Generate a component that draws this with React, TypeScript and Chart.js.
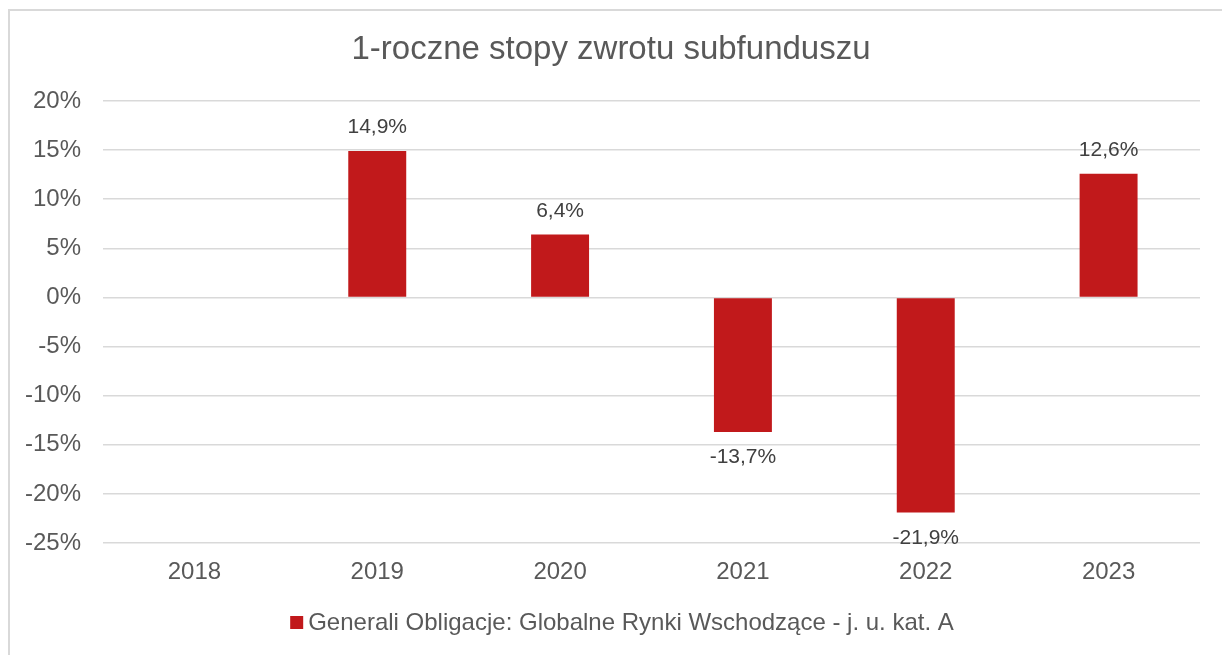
import React, { useEffect, useRef } from "react";
import { Chart, registerables } from "chart.js";

Chart.register(...registerables);

const TITLE = "1-roczne stopy zwrotu subfunduszu";
const SERIES_NAME = "Generali Obligacje: Globalne Rynki Wschodzące - j. u. kat. A";
const YEARS = ["2018", "2019", "2020", "2021", "2022", "2023"];
const RETURNS: (number | null)[] = [null, 14.9, 6.4, -13.7, -21.9, 12.6];
const Y_MIN = -25;
const Y_MAX = 20;
const Y_STEP = 5;

const BAR_COLOR = "#C1191B";
const FONT = "'Liberation Sans', Arial, sans-serif";

const fmt = (v: number) => v.toFixed(1).replace(".", ",") + "%";

const overlayPlugin = {
  id: "overlay",
  afterDraw(chart: any) {
    const ctx = chart.ctx as CanvasRenderingContext2D;
    const W = chart.width;
    ctx.save();
    // title
    ctx.fillStyle = "#595959";
    ctx.font = `33px ${FONT}`;
    ctx.textAlign = "center";
    ctx.textBaseline = "middle";
    ctx.fillText(TITLE, W / 2, 50);

    // data labels
    const meta = chart.getDatasetMeta(0);
    ctx.font = `21px ${FONT}`;
    ctx.fillStyle = "#404040";
    meta.data.forEach((el: any, i: number) => {
      const v = RETURNS[i];
      if (v === null || v === undefined) return;
      const y = v >= 0 ? el.y - 23.5 : el.y + 25.5;
      ctx.fillText(fmt(v), el.x, y);
    });

    // legend
    ctx.font = `24px ${FONT}`;
    const tw = ctx.measureText(SERIES_NAME).width;
    const box = 13;
    const gap = 5;
    const total = box + gap + tw;
    const x0 = 622 - total / 2;
    ctx.fillStyle = BAR_COLOR;
    ctx.fillRect(x0, 616, box, box);
    ctx.fillStyle = "#595959";
    ctx.textAlign = "left";
    ctx.fillText(SERIES_NAME, x0 + box + gap, 623);
    ctx.restore();
  },
};

export default function App() {
  const ref = useRef<HTMLCanvasElement | null>(null);
  useEffect(() => {
    if (!ref.current) return;
    const chart = new Chart(ref.current, {
      type: "bar",
      data: {
        labels: YEARS,
        datasets: [
          {
            label: SERIES_NAME,
            data: RETURNS,
            backgroundColor: BAR_COLOR,
            borderWidth: 0,
            barPercentage: 0.317,
            categoryPercentage: 1,
          },
        ],
      },
      options: {
        responsive: false,
        animation: false,
        layout: { padding: { top: 101, right: 22, bottom: 62, left: 0 } },
        plugins: {
          legend: { display: false },
          title: { display: false },
          tooltip: { enabled: false },
        },
        scales: {
          x: {
            grid: { display: false, drawTicks: false },
            border: { display: false },
            ticks: {
              color: "#595959",
              font: { family: FONT, size: 24 },
              padding: 15,
            },
            afterFit: (s: any) => {
              s.height = 50;
            },
          },
          y: {
            min: Y_MIN,
            max: Y_MAX,
            grid: { color: "#d9d9d9", lineWidth: 1.5, drawTicks: false },
            border: { display: false },
            ticks: {
              stepSize: Y_STEP,
              color: "#595959",
              font: { family: FONT, size: 24 },
              padding: 22,
              callback: (v: any) => `${v}%`,
            },
            afterFit: (s: any) => {
              s.width = 103;
            },
          },
        },
      },
      plugins: [overlayPlugin],
    });
    return () => chart.destroy();
  }, []);

  return (
    <div
      style={{
        position: "absolute",
        left: 0,
        top: 0,
        width: 1222,
        height: 655,
        overflow: "hidden",
        background: "#fff",
      }}
    >
      <div
        style={{
          position: "absolute",
          left: 8,
          top: 9,
          width: 1400,
          height: 800,
          border: "2px solid #d9d9d9",
          boxSizing: "border-box",
        }}
      />
      <canvas
        ref={ref}
        width={1222}
        height={655}
        style={{ position: "absolute", left: 0, top: 0, width: 1222, height: 655 }}
      />
    </div>
  );
}
